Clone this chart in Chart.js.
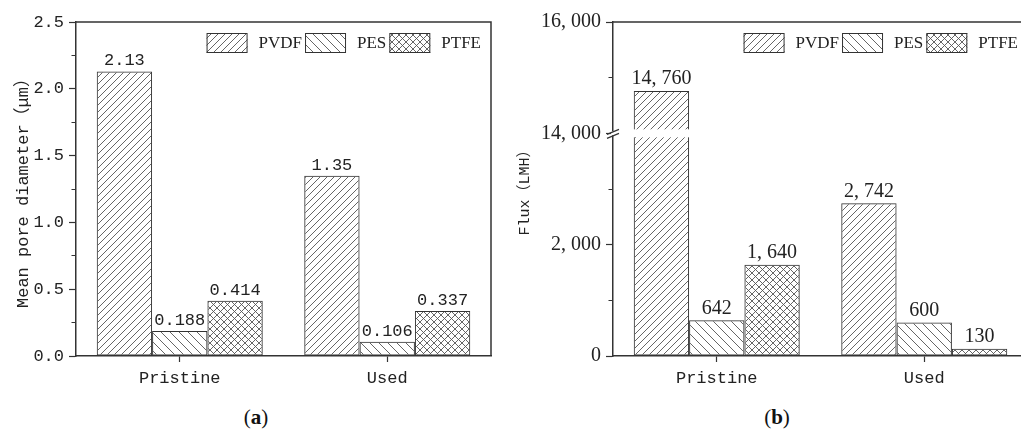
<!DOCTYPE html>
<html>
<head>
<meta charset="utf-8">
<script src="https://cdn.jsdelivr.net/npm/chart.js@4/dist/chart.umd.min.js"></script>
<style>
  html, body { margin: 0; padding: 0; background: #fff; overflow: hidden; }
  #wrap { position: relative; width: 1021px; height: 432px; overflow: hidden; background: #fff; }
  canvas { position: absolute; top: 0; }
  .cap { position: absolute; top: 404px; transform: translateX(-50%);
         font: 21px "Liberation Serif", serif; line-height: 26px; color: #111; }
</style>
</head>
<body>
<div id="wrap">
  <canvas id="poreChart" width="500" height="400" style="left:0;width:500px;height:400px"></canvas>
  <canvas id="fluxChart" width="530" height="400" style="left:500px;width:530px;height:400px"></canvas>
  <div class="cap" style="left:256px">(<b>a</b>)</div>
  <div class="cap" style="left:777px">(<b>b</b>)</div>
</div>
<script>
// ---- data ----
const states = ['Pristine', 'Used'];
const materials = ['PVDF', 'PES', 'PTFE'];

// mean pore diameter, µm
const porePVDF = [2.13, 1.35];
const porePES  = [0.188, 0.106];
const porePTFE = [0.414, 0.337];

// flux, LMH
const fluxPVDF = [14760, 2742];
const fluxPES  = [642, 600];
const fluxPTFE = [1640, 130];

// axis ranges / ticks
const poreMax = 2.5;
const poreStep = 0.25;          // every other tick is labelled
const fluxStep = 1000;          // every other tick is labelled
const fluxBreakLow = 4000;      // lower segment ends here
const fluxBreakHigh = 14000;    // upper segment starts here
const fluxTop = 16000;

// ---- styles ----
const AXIS = '#333';
const TEXT = '#222';
const MONO = '"Liberation Mono", "Noto Sans CJK SC", monospace';
const SERIF = '"Liberation Serif", "Noto Sans CJK SC", serif';

function hatch(kind, p) {
  const c = document.createElement('canvas');
  c.width = p; c.height = p;
  const g = c.getContext('2d');
  g.strokeStyle = '#555';
  g.lineWidth = 0.9;
  const fwd = () => {
    g.beginPath();
    g.moveTo(0, p); g.lineTo(p, 0);
    g.moveTo(-p, p); g.lineTo(p, -p);
    g.moveTo(0, 2 * p); g.lineTo(2 * p, 0);
    g.stroke();
  };
  const back = () => {
    g.beginPath();
    g.moveTo(0, 0); g.lineTo(p, p);
    g.moveTo(-p, 0); g.lineTo(p, 2 * p);
    g.moveTo(0, -p); g.lineTo(2 * p, p);
    g.stroke();
  };
  if (kind === 'fwd') fwd();
  else if (kind === 'back') back();
  else { fwd(); back(); }
  return g.createPattern(c, 'repeat');
}

const fills = {
  PVDF: hatch('fwd', 7),
  PES: hatch('back', 9),
  PTFE: hatch('cross', 7)
};

// ---- plugins ----
// frame: top and right edges of the plot box
const frame = {
  id: 'frame',
  afterDraw(chart) {
    const { ctx, chartArea: a } = chart;
    ctx.save();
    ctx.strokeStyle = AXIS;
    ctx.lineWidth = 1.5;
    ctx.beginPath();
    ctx.moveTo(a.left, a.top);
    ctx.lineTo(a.right, a.top);
    ctx.lineTo(a.right, a.bottom);
    ctx.stroke();
    ctx.restore();
  }
};

// value labels above each bar
const valueLabels = {
  id: 'valueLabels',
  afterDatasetsDraw(chart, args, opts) {
    const ctx = chart.ctx;
    ctx.save();
    ctx.font = opts.font;
    ctx.fillStyle = TEXT;
    ctx.textAlign = 'center';
    ctx.textBaseline = 'bottom';
    chart.data.datasets.forEach((ds, di) => {
      const meta = chart.getDatasetMeta(di);
      meta.data.forEach((bar, i) => {
        ctx.fillText(opts.format(ds.values[i]), bar.x, bar.y - 2);
      });
    });
    ctx.restore();
  }
};

// legend inside the top-right corner of the plot
const boxLegend = {
  id: 'boxLegend',
  afterDraw(chart) {
    const { ctx, chartArea: a } = chart;
    const bw = 41, bh = 20, gapText = 11, gapItem = 3;
    ctx.save();
    ctx.font = '17px ' + SERIF;
    const items = chart.data.datasets.map(ds => ({
      label: ds.label, fill: ds.backgroundColor, w: ctx.measureText(ds.label).width
    }));
    const total = items.reduce((s, it) => s + bw + gapText + it.w, 0) + gapItem * (items.length - 1);
    let x = a.right - 10 - total;
    const y = a.top + 11;
    items.forEach(it => {
      ctx.fillStyle = '#fff';
      ctx.fillRect(x, y, bw, bh);
      ctx.fillStyle = it.fill;
      ctx.fillRect(x, y, bw, bh);
      ctx.strokeStyle = AXIS;
      ctx.lineWidth = 1;
      ctx.strokeRect(x + 0.5, y + 0.5, bw - 1, bh - 1);
      ctx.fillStyle = TEXT;
      ctx.textBaseline = 'middle';
      ctx.textAlign = 'left';
      ctx.fillText(it.label, x + bw + gapText, y + bh / 2 + 1);
      x += bw + gapText + it.w + gapItem;
    });
    ctx.restore();
  }
};

// axis break for the flux chart
const axisBreak = {
  id: 'axisBreak',
  afterDatasetsDraw(chart) {
    const { ctx, chartArea: a } = chart;
    const yb = chart.scales.y.getPixelForValue(fluxBreakLow);
    ctx.save();
    ctx.fillStyle = '#fff';
    chart.data.datasets.forEach((ds, di) => {
      chart.getDatasetMeta(di).data.forEach(bar => {
        if (bar.y < yb - 4) {
          ctx.fillRect(bar.x - bar.width / 2 - 2, yb - 4, bar.width + 4, 8);
        }
      });
    });
    const x = a.left;
    ctx.fillRect(x - 2, yb - 2, 4, 4);
    ctx.strokeStyle = AXIS;
    ctx.lineWidth = 1.2;
    ctx.beginPath();
    ctx.moveTo(x - 6, yb + 1); ctx.lineTo(x + 6, yb - 4);
    ctx.moveTo(x - 6, yb + 5); ctx.lineTo(x + 6, yb);
    ctx.stroke();
    ctx.restore();
  }
};

// ---- helpers ----
const isMultiple = (v, m) => Math.abs(v / m - Math.round(v / m)) < 1e-6;
const minorDash = [0, 2.5, 5, 20];
const fluxToAxis = v => (v > fluxBreakLow ? v - (fluxBreakHigh - fluxBreakLow) : v);
const axisToFlux = v => (v >= fluxBreakLow ? v + (fluxBreakHigh - fluxBreakLow) : v);
const groupThousands = n => String(Math.round(n)).replace(/\B(?=(\d{3})+(?!\d))/g, ', ');

function datasets(series, map) {
  return materials.map((m, i) => ({
    label: m,
    values: series[i],
    data: series[i].map(map),
    backgroundColor: fills[m],
    borderColor: AXIS,
    borderWidth: 1,
    borderSkipped: false,
    categoryPercentage: 0.8,
    barPercentage: 1.0
  }));
}

function xAxis() {
  return {
    afterFit: s => { s.height = 44; },
    border: { color: AXIS, width: 1.5 },
    grid: { offset: false, drawOnChartArea: false, tickLength: 6, tickColor: AXIS, tickWidth: 1.2 },
    ticks: { font: { family: MONO, size: 17 }, color: TEXT, padding: 6 }
  };
}

// ---- pore diameter chart ----
new Chart(document.getElementById('poreChart'), {
  type: 'bar',
  data: { labels: states, datasets: datasets([porePVDF, porePES, porePTFE], v => v) },
  options: {
    responsive: false,
    animation: false,
    layout: { padding: { left: 0, top: 22, right: 9, bottom: 0 } },
    plugins: {
      legend: { display: false },
      tooltip: { enabled: false },
      valueLabels: { font: '17px ' + MONO, format: v => String(v) }
    },
    scales: {
      x: xAxis(),
      y: {
        min: 0, max: poreMax,
        afterFit: s => { s.width = 76; },
        border: { color: AXIS, width: 1.5 },
        grid: {
          drawOnChartArea: false, tickLength: 7, tickColor: AXIS, tickWidth: 1.2,
          tickBorderDash: c => (c.tick && isMultiple(c.tick.value, poreStep * 2)) ? [] : minorDash
        },
        ticks: {
          stepSize: poreStep, autoSkip: false, padding: 5,
          font: { family: MONO, size: 17 }, color: TEXT,
          callback: v => isMultiple(v, poreStep * 2) ? v.toFixed(1) : ''
        },
        title: {
          display: true, text: 'Mean pore diameter（μm）',
          font: { family: MONO, size: 17 }, color: TEXT, padding: { top: 13, bottom: 0 }
        }
      }
    }
  },
  plugins: [frame, valueLabels, boxLegend]
});

// ---- flux chart (broken axis) ----
new Chart(document.getElementById('fluxChart'), {
  type: 'bar',
  data: { labels: states, datasets: datasets([fluxPVDF, fluxPES, fluxPTFE], fluxToAxis) },
  options: {
    responsive: false,
    animation: false,
    layout: { padding: { left: 0, top: 22, right: 2, bottom: 0 } },
    plugins: {
      legend: { display: false },
      tooltip: { enabled: false },
      valueLabels: { font: '20px ' + SERIF, format: groupThousands }
    },
    scales: {
      x: xAxis(),
      y: {
        min: 0, max: fluxToAxis(fluxTop),
        afterFit: s => { s.width = 113; },
        border: { color: AXIS, width: 1.5 },
        grid: {
          drawOnChartArea: false, tickLength: 7, tickColor: AXIS, tickWidth: 1.2,
          tickBorderDash: c => (c.tick && isMultiple(c.tick.value, fluxStep * 2)) ? [] : minorDash
        },
        ticks: {
          stepSize: fluxStep, autoSkip: false, padding: 5,
          font: { family: SERIF, size: 20 }, color: TEXT,
          callback: v => isMultiple(v, fluxStep * 2) ? groupThousands(axisToFlux(v)) : ''
        },
        title: {
          display: true, text: 'Flux（LMH）',
          font: { family: MONO, size: 15 }, color: TEXT, padding: { top: 16, bottom: 0 }
        }
      }
    }
  },
  plugins: [frame, valueLabels, axisBreak, boxLegend]
});
</script>
</body>
</html>
